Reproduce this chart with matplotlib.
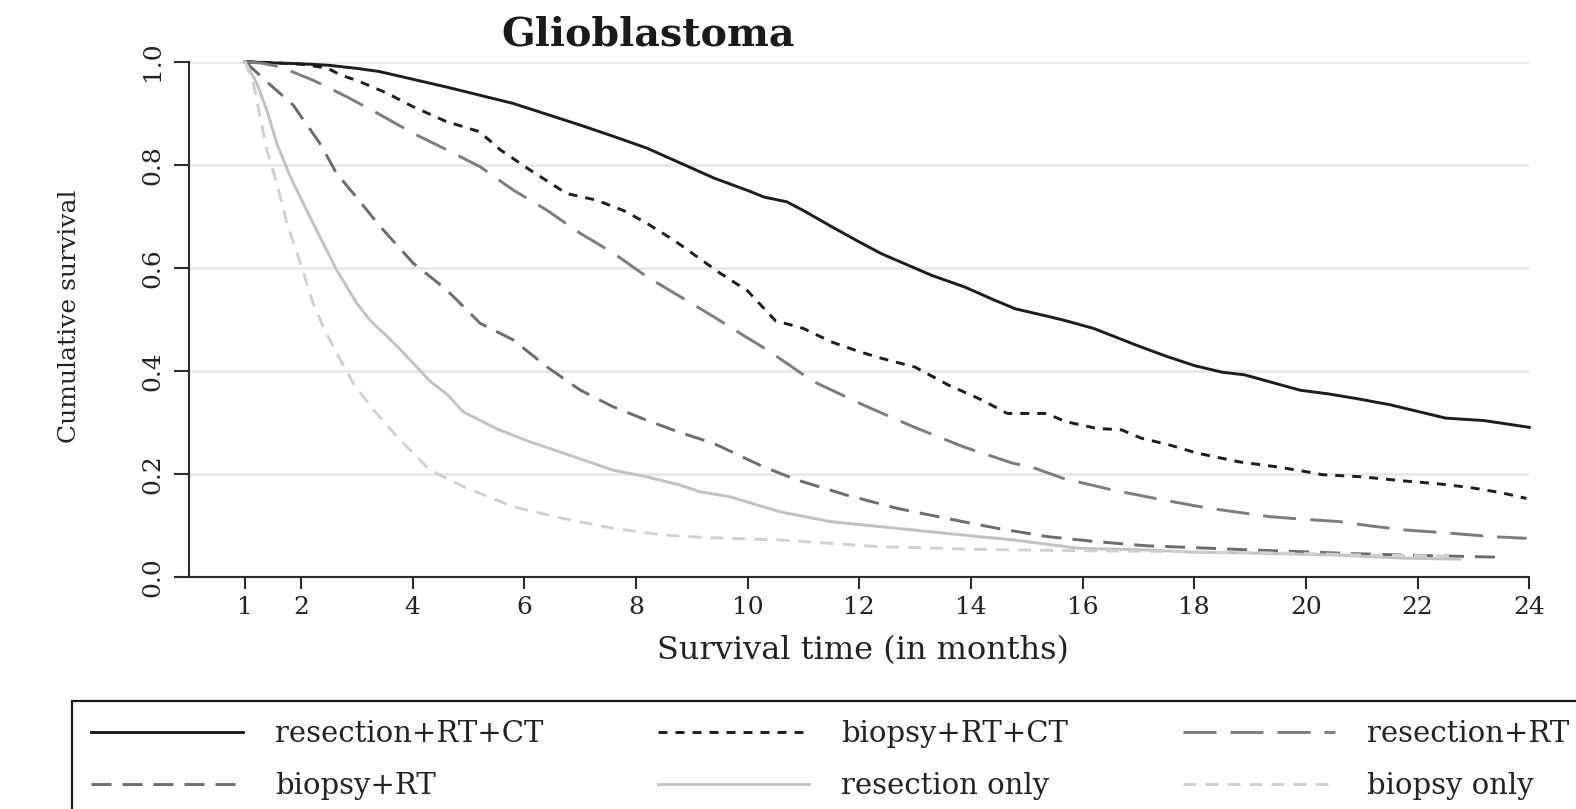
import matplotlib
matplotlib.use('Agg')
import matplotlib.pyplot as plt

plt.rcParams['font.family'] = 'DejaVu Serif'
plt.rcParams['lines.scale_dashes'] = False

# survival curves (months, cumulative survival)
m_res_rt_ct = [1.0, 1.4, 2.0, 2.5, 3.0, 3.4, 4.0, 4.6, 5.2, 5.8, 6.4, 7.0, 7.6, 8.2, 8.8, 9.4, 10.0,
               10.3, 10.7, 11.0, 11.5, 12.0, 12.4, 13.0, 13.3, 13.9, 14.4, 14.8, 15.4, 15.7, 16.2,
               16.6, 17.0, 17.5, 18.0, 18.5, 18.9, 19.4, 19.9, 20.4, 20.9, 21.5, 22.0, 22.5, 23.2, 24.0]
s_res_rt_ct = [1.0, 0.998, 0.996, 0.993, 0.987, 0.981, 0.966, 0.951, 0.935, 0.919, 0.898, 0.877, 0.855,
               0.832, 0.803, 0.774, 0.750, 0.737, 0.728, 0.711, 0.680, 0.650, 0.627, 0.599, 0.585,
               0.562, 0.538, 0.520, 0.505, 0.497, 0.482, 0.465, 0.448, 0.428, 0.410, 0.397, 0.392,
               0.377, 0.362, 0.355, 0.346, 0.334, 0.321, 0.308, 0.303, 0.290]

m_bio_rt_ct = [1.0, 1.5, 2.0, 2.46, 2.7, 3.06, 3.54, 4.0, 4.6, 5.2, 5.57, 6.1, 6.76, 7.3, 7.8, 8.2, 8.7,
               9.15, 9.5, 10.0, 10.5, 11.0, 11.5, 12.0, 12.4, 13.0, 13.6, 14.2, 14.65, 15.35, 15.7,
               16.25, 16.7, 17.05, 17.55, 18.05, 18.8, 19.5, 20.0, 20.3, 21.0, 21.75, 22.4, 22.95,
               23.5, 23.95]
s_bio_rt_ct = [1.0, 0.998, 0.995, 0.988, 0.975, 0.961, 0.939, 0.913, 0.884, 0.864, 0.829, 0.790, 0.744,
               0.731, 0.710, 0.686, 0.652, 0.617, 0.590, 0.555, 0.497, 0.482, 0.456, 0.437, 0.424,
               0.407, 0.372, 0.343, 0.317, 0.317, 0.301, 0.288, 0.285, 0.269, 0.256, 0.240, 0.223,
               0.213, 0.204, 0.198, 0.194, 0.186, 0.180, 0.173, 0.163, 0.152]

m_res_rt = [1.0, 1.3, 1.63, 2.22, 2.82, 3.42, 4.01, 4.61, 5.21, 5.8, 6.4, 7.0, 7.6, 8.19, 8.79, 9.39,
            9.98, 10.4, 10.88, 11.18, 12.08, 12.97, 13.87, 14.76, 15.06, 15.65, 16.55, 17.44, 18.1,
            18.46, 19.36, 19.95, 20.6, 21.2, 21.74, 22.64, 23.3, 23.95]
s_res_rt = [1.0, 0.997, 0.990, 0.964, 0.932, 0.897, 0.861, 0.829, 0.796, 0.751, 0.712, 0.667, 0.628,
            0.583, 0.544, 0.505, 0.465, 0.437, 0.401, 0.379, 0.333, 0.291, 0.252, 0.220, 0.214,
            0.191, 0.168, 0.149, 0.136, 0.130, 0.1165, 0.1115, 0.107, 0.098, 0.091, 0.084, 0.078,
            0.0745]

m_bio_rt = [1.0, 1.39, 1.86, 2.34, 2.64, 2.94, 3.42, 4.01, 4.61, 5.21, 5.8, 6.4, 7.0, 7.59, 8.19,
            8.79, 9.39, 10.28, 10.88, 11.77, 12.67, 13.57, 14.47, 15.36, 16.25, 17.15, 18.1, 19.0,
            19.95, 20.8, 21.74, 22.6, 23.56]
s_bio_rt = [1.0, 0.961, 0.916, 0.8415, 0.783, 0.744, 0.680, 0.609, 0.557, 0.492, 0.460, 0.408,
            0.3625, 0.330, 0.304, 0.280, 0.259, 0.2136, 0.188, 0.1586, 0.133, 0.113, 0.094, 0.078,
            0.068, 0.060, 0.056, 0.052, 0.0485, 0.045, 0.042, 0.040, 0.0376]

m_res_only = [1.0, 1.21, 1.39, 1.57, 1.81, 2.10, 2.34, 2.64, 3.0, 3.24, 3.72, 4.13, 4.31, 4.61, 4.91,
              5.51, 6.10, 6.70, 7.59, 8.19, 8.79, 9.15, 9.69, 10.58, 11.48, 12.67, 13.57, 14.76,
              15.95, 17.15, 18.1, 18.76, 20.55, 21.74, 22.76]
s_res_only = [1.0, 0.958, 0.906, 0.841, 0.777, 0.712, 0.660, 0.5955, 0.531, 0.498, 0.448, 0.401,
              0.380, 0.355, 0.320, 0.287, 0.262, 0.240, 0.207, 0.194, 0.178, 0.165, 0.155, 0.126,
              0.107, 0.094, 0.084, 0.0713, 0.055, 0.052, 0.047, 0.0466, 0.042, 0.036, 0.034]

m_bio_only = [1.0, 1.15, 1.27, 1.39, 1.57, 1.75, 1.99, 2.22, 2.4, 2.64, 2.94, 3.30, 3.72, 4.31, 4.91,
              5.80, 6.70, 7.59, 8.49, 9.15, 10.58, 12.37, 14.16, 15.95, 17.5, 19.5, 21.1, 22.6]
s_bio_only = [1.0, 0.958, 0.893, 0.829, 0.764, 0.686, 0.609, 0.531, 0.485, 0.434, 0.3755, 0.324,
              0.272, 0.207, 0.175, 0.136, 0.113, 0.094, 0.081, 0.0765, 0.0713, 0.0583, 0.053,
              0.0505, 0.049, 0.046, 0.042, 0.040]

x_ticks = [1, 2, 4, 6, 8, 10, 12, 14, 16, 18, 20, 22, 24]
y_ticks = [0.0, 0.2, 0.4, 0.6, 0.8, 1.0]

fig = plt.figure(figsize=(15.76, 8.09), dpi=100)
ax = fig.add_axes([0.12005, 0.28715, 0.8503, 0.6366])

lw = 2.1
px = 0.72  # one pixel in points at dpi 100
l1, = ax.plot(m_res_rt_ct, s_res_rt_ct, color='#1c1c1c', lw=lw, label='resection+RT+CT')
l2, = ax.plot(m_bio_rt_ct, s_bio_rt_ct, color='#1c1c1c', lw=lw, dashes=(9*px, 8*px),
              label='biopsy+RT+CT')
l3, = ax.plot(m_res_rt, s_res_rt, color='#7c7c7c', lw=lw, dashes=(33*px, 14*px), label='resection+RT')
l4, = ax.plot(m_bio_rt, s_bio_rt, color='#6c6c6c', lw=lw, dashes=(20*px, 11*px), label='biopsy+RT')
l5, = ax.plot(m_res_only, s_res_only, color='#c2c2c2', lw=lw, label='resection only')
l6, = ax.plot(m_bio_only, s_bio_only, color='#d0d0d0', lw=lw, dashes=(13*px, 9*px), label='biopsy only')
for l in (l1, l2, l3, l4, l5, l6):
    l.set_clip_on(False)

ax.set_xlim(0, 24)
ax.set_ylim(0, 1)
ax.set_axisbelow(True)
ax.yaxis.grid(True, color='#e8e8e8', lw=2.0)
ax.set_xticks(x_ticks)
ax.set_yticks(y_ticks)
ax.set_yticklabels(['%.1f' % v for v in y_ticks])
for side in ('top', 'right'):
    ax.spines[side].set_visible(False)
for side in ('left', 'bottom'):
    ax.spines[side].set_color('#2b2b2b')
    ax.spines[side].set_linewidth(1.5)
ax.tick_params(axis='x', length=8.6, width=1.5, color='#2b2b2b', pad=5, labelsize=18, labelcolor='#222222')
ax.tick_params(axis='y', length=10.8, width=1.5, color='#2b2b2b', pad=7, labelsize=18, labelcolor='#222222')
for t in ax.get_yticklabels():
    t.set_rotation(90)
    t.set_va('center')

fig.text(648/1576, 1 - 35/809, 'Glioblastoma', fontsize=28.5, fontweight='bold',
         ha='center', va='center', color='#1a1a1a')
fig.text(863/1576, 1 - 651/809, 'Survival time (in months)', fontsize=23,
         ha='center', va='center', color='#222222')
fig.text(70/1576, 1 - 316/809, 'Cumulative survival', fontsize=18, rotation=90,
         ha='center', va='center', color='#222222')

handles = [l1, l4, l2, l5, l3, l6]
leg = fig.legend(handles=handles, labels=[h.get_label() for h in handles], ncol=3,
                 loc='upper left', bbox_to_anchor=(72/1576, 1 - 701/809), borderaxespad=0,
                 fontsize=21, handlelength=5.2, handletextpad=1.1, columnspacing=3.93,
                 borderpad=0.65, labelspacing=0.82, frameon=True, fancybox=False,
                 edgecolor='#1a1a1a', framealpha=1)
leg.get_frame().set_linewidth(1.6)
for t in leg.get_texts():
    t.set_color('#222222')

plt.savefig('out.png', dpi=100)
